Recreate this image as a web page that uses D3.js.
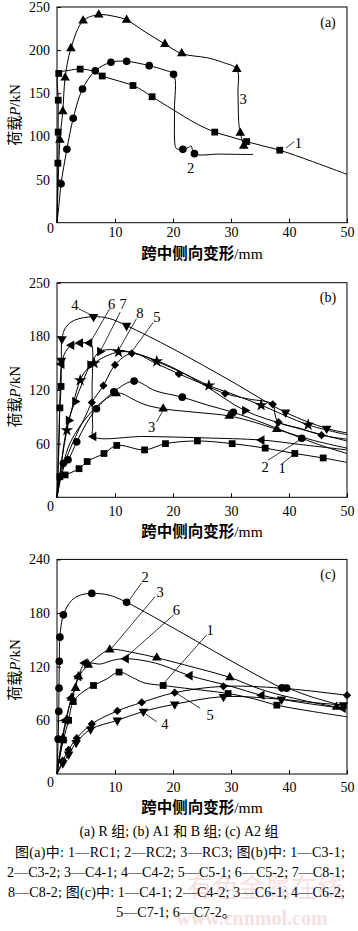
<!DOCTYPE html>
<html><head><meta charset="utf-8">
<script src="https://cdn.jsdelivr.net/npm/d3@7"></script>
<style>body{margin:0;background:#fff}svg{display:block}</style>
</head><body><svg id="chart" width="358" height="931"></svg>
<script>
// ---------- DATA ----------
const xTicks = [10, 20, 30, 40, 50];
const aYTicks = [50, 100, 150, 200, 250];
const aYTickLabels = ["50", "100", "150", "200", "250"];
const bYTicks = [60, 120, 180, 240];
const bYTickLabels = ["60", "120", "180", "250"];
const cYTicks = [60, 120, 180, 240];
const cYTickLabels = ["60", "120", "180", "240"];

// Panel (a) R group
const aRC1 = [[0,0],[0.15,69],[0.2,105],[0.22,142],[0.3,173],[2,176.5],[4.0,178],[6,176],[7.8,170],[10,165.5],[13.1,159],[14.8,153],[16.4,146],[20,131],[24,115],[27.2,105],[30,99.5],[32.7,94],[35.5,89],[38.4,84],[44,71],[50,56]];
const aRC1Marks = [[0.15,69],[0.2,105],[0.22,142],[0.3,173],[4.0,178],[7.8,170],[13.1,159],[16.4,146],[27.2,105],[32.7,94],[38.4,84]];
const aRC2 = [[0,0],[0.4,25],[0.7,45],[1.7,85],[2.8,121],[4.4,155],[6.6,176],[9.3,186],[12,187],[15.9,182],[18.5,177],[20.1,172],[20.25,130],[20.35,90],[20.6,86],[21.7,85],[22.6,87],[23.1,89],[23.7,80],[28,79.5],[33.8,79]];
const aRC2Marks = [[0.7,45],[1.7,85],[2.8,121],[4.4,155],[6.6,176],[9.3,186],[12,187],[15.9,182],[20.1,172],[21.7,85],[23.7,80]];
const aRC3 = [[0,0],[0.5,96],[1.0,129],[1.4,168],[2.4,202],[4.5,234],[7.2,241],[10,239],[12,235],[15,222],[18.6,207],[21.5,196],[26,191],[28.5,186],[31,178],[31.2,150],[31.35,115],[31.6,104],[32.2,89]];
const aRC3Marks = [[0.5,96],[1.0,129],[1.4,168],[2.4,202],[4.5,234],[7.2,241],[12,235],[18.6,207],[21.5,196],[31,178],[31.6,104],[32.2,89]];
const aLabels = [["1",41.6,92.4],["2",23.05,63.4],["3",32.1,143.3]];
const aLeaders = [[39.5,86.6,40.9,93.9]];

// Panel (b) A1 and B groups
const bC31 = [[0,0],[0.2,15],[0.5,23],[1.4,25],[3.8,32],[5.2,40],[8.1,49],[10.3,58],[15.1,53],[18.7,60],[24.2,63],[30.2,60],[35.9,55],[41,49],[45.9,44],[50,39]];
const bC31Marks = [[0.5,23],[1.4,25],[3.8,32],[5.2,40],[8.1,49],[10.3,58],[15.1,53],[18.7,60],[24.2,63],[30.2,60],[35.9,55],[41,49],[45.9,44]];
const bC32 = [[0,0],[0.5,25],[1.1,38],[1.9,42],[3.4,62],[5,82],[6.8,99],[9.8,118],[13.3,130],[17,119],[21.6,112],[26,103],[30.4,95],[36,82],[42.2,66],[46,57],[50,49]];
const bC32Marks = [[1.1,38],[1.9,42],[3.4,62],[6.8,99],[9.8,118],[13.3,130],[21.6,112],[30.4,95],[42.2,66]];
const bC41 = [[0,0],[0.5,20],[1.2,40],[2.2,60],[4,80],[6,96],[8,108],[10.2,116],[11.2,116],[13,110],[15,104],[18.3,99],[24,95],[29.7,91],[34,84],[37.9,76],[44,64],[50,55]];
const bC41Marks = [[10.2,116],[18.3,99],[29.7,91],[37.9,76]];
const bC42 = [[0,0],[0.3,50],[0.5,100],[0.7,124],[0.75,153],[0.85,177],[1.5,190],[3,198],[6.3,202],[9,200],[12,192],[20,166],[30,130],[39.4,95],[46.5,77],[50,72]];
const bC42Marks = [[0.75,153],[0.85,177],[6.3,202],[12,192],[39.4,95],[46.5,77]];
const bC42Squares = [[0.5,100],[0.7,124]];
const bC51 = [[0,0],[0.8,25],[2,50],[3.5,72],[5,92],[6.0,106],[8,125],[10,148],[12.9,161],[17,150],[21,138],[25,127],[29,116],[33,110],[37.2,104],[37.6,92],[38.2,84],[42,77],[45.6,69.5],[50,65]];
const bC51Marks = [[6.0,106],[8,125],[10,148],[12.9,161],[21,138],[29,116],[37.2,104],[38.2,84],[45.6,69.5]];
const bC52 = [[0,0],[0.3,60],[0.5,110],[0.8,149],[1.5,163],[2.5,170],[4,172.5],[5.6,172.5],[6.0,170],[6.05,120],[6.15,80],[6.3,68],[15,68],[25,66.5],[35.3,64],[42,59],[50,53]];
const bC52Marks = [[0.8,149],[2.5,170],[4,172.5],[5.6,172.5],[6.3,68],[35.3,64]];
const bC81 = [[0,0],[0.6,30],[1.2,60],[2.0,86],[3.1,107],[4.5,130],[5.7,148],[7.4,163],[10,165],[14,160],[19,148],[25,127],[32.4,97],[40,80],[50,63]];
const bC81Marks = [[2.0,86],[3.1,107],[5.7,148],[7.4,163],[32.4,97]];
const bC82 = [[0,0],[0.8,40],[1.7,75],[2.8,105],[4.0,131],[5,142],[6.4,150],[8.5,158],[10.6,162.5],[13,162],[17.2,152],[22,138],[26.2,125],[30,116],[35.2,103],[43.3,81],[50,70]];
const bC82Marks = [[1.7,75],[4.0,131],[6.4,150],[10.6,162.5],[17.2,152],[26.2,125],[35.2,103],[43.3,81]];
const bLabels = [["4",3.1,214.8],["6",9.4,216.5],["7",11.4,216.5],["8",14.3,205.7],["5",17.2,201.2],["3",16.3,78.8],["2",35.9,33.5],["1",38.8,32.4]];
const bLeaders = [[3.7,211,6.0,203.5],[9.1,211,6.0,176.3],[10.9,207.1,7.6,165],[13.7,199.8,10.6,164.4],[16.6,195.6,12.9,163],[17.2,84.4,18.3,97.4],[36.4,41.6,42.0,64.7],[38.9,38,41.0,49]];

// Panel (c) A2 group
const cC41 = [[0,0],[0.5,20],[1.1,38],[2.0,60],[2.8,81],[4.5,92],[6.3,99],[8.5,106],[10.7,114],[13,108],[15,102],[18.3,99],[22,96],[29.5,90],[34,84],[37.9,77],[44,70],[50,64]];
const cC41Marks = [[1.1,38],[2.0,60],[2.8,81],[6.3,99],[10.7,114],[18.3,99],[29.5,90],[37.9,77]];
const cC42 = [[0,0],[0.2,39],[0.3,70],[0.35,96],[0.4,126],[0.5,153],[1.1,178],[2.5,194],[4,200],[6.0,202],[9,200],[12,192],[38.8,96.5],[39.6,96],[44,86],[50,75]];
const cC42Marks = [[0.2,39],[0.3,70],[0.35,96],[0.4,126],[0.5,153],[1.1,178],[6.0,202],[12,192],[38.8,96.5],[39.6,96]];
const cC61 = [[0,0],[0.5,20],[1,40],[1.6,60],[2.5,85],[3.2,96],[3.7,109],[5.4,122],[7,131],[9.1,139],[13,136],[17.2,130],[22,122],[29.8,108],[35,95],[40,86],[48.2,75],[50,74]];
const cC61Marks = [[1,40],[1.6,60],[2.5,85],[3.2,96],[3.7,109],[5.4,122],[9.1,139],[17.2,130],[29.8,108],[48.2,75]];
const cC62 = [[0,0],[1,12],[2,22],[3.3,35],[5.8,50],[10.4,60],[14.9,70],[20.3,78],[28.7,86.5],[38.7,83.5],[44,80],[49.4,77],[50,76.5]];
const cC62Marks = [[1,12],[2,22],[3.3,35],[5.8,50],[10.4,60],[14.9,70],[20.3,78],[28.7,86.5],[38.7,83.5],[49.4,77]];
const cC71 = [[0,0],[1,15],[2,27],[3.4,40],[6,56],[10.4,70.5],[14.6,80],[20.3,91],[28.7,98],[38.7,96],[50,88]];
const cC71Marks = [[1,15],[2,27],[3.4,40],[6,56],[10.4,70.5],[14.6,80],[20.3,91],[28.7,98],[38.7,96],[50,88]];
const cC72 = [[0,0],[0.5,25],[1.5,60],[2.5,85],[3.7,109],[4.8,124],[6,124],[7.5,123],[9.5,127],[11.9,129],[17,124],[22.9,110],[30,98],[35.3,88],[42,80],[50,73]];
const cC72Marks = [[1.5,60],[2.5,85],[3.7,109],[4.8,124],[11.9,129],[22.9,110],[35.3,88],[49.3,73.5]];
const cLabels = [["2",15.2,220.7],["3",17.8,203.9],["6",20.6,183.4],["1",26.4,161.1],["5",26.4,66],["4",18.6,56]];
const cLeaders = [[14.6,214.0,12.3,192.8],[16.9,198.3,9.4,140.6],[20.1,177.9,12.0,131.2],[25.8,155.5,18.3,100.7],[24.7,73.5,20.6,90.3],[17.2,58.4,15.3,67]];

const captionLines = [
  "(a) R 组; (b) A1 和 B 组; (c) A2 组",
  "图(a)中: 1—RC1; 2—RC2; 3—RC3; 图(b)中: 1—C3-1;",
  "2—C3-2; 3—C4-1; 4—C4-2; 5—C5-1; 6—C5-2; 7—C8-1;",
  "8—C8-2; 图(c)中: 1—C4-1; 2—C4-2; 3—C6-1; 4—C6-2;",
  "5—C7-1; 6—C7-2。"
];

// ---------- DRAWING ----------
const FONT = "'Liberation Serif','Times New Roman','Noto Sans CJK SC',serif";
const CJK = "'Noto Sans CJK SC','Liberation Serif',serif";
const svg = d3.select("#chart");
const L = 57, R = 347;

function symPath(type) {
  const map = {
    square: [d3.symbolSquare, 46, 0],
    circle: [d3.symbolCircle, 46, 0],
    up: [d3.symbolTriangle, 40, 0],
    down: [d3.symbolTriangle, 40, 180],
    left: [d3.symbolTriangle, 40, -90],
    right: [d3.symbolTriangle, 40, 90],
    diamond: [d3.symbolSquare, 34, 45],
    star: [d3.symbolStar, 48, 0]
  };
  const m = map[type];
  return { d: d3.symbol(m[0], m[1])(), rot: m[2] };
}

const panels = [
  { top: 7, bottom: 222.7, yMax: 250, yTicks: aYTicks, yLabels: aYTickLabels, pad: 4.7, zeroY: 233.3, titleY: 258.5, yTitleY: 115, tag: "(a)",
    series: [[aRC1, aRC1Marks, "square"], [aRC2, aRC2Marks, "circle"], [aRC3, aRC3Marks, "up"]],
    extra: [], labels: aLabels, leaders: aLeaders },
  { top: 282.7, bottom: 497.3, yMax: 240, yTicks: bYTicks, yLabels: bYTickLabels, pad: 8.8, zeroY: 510.7, titleY: 537, yTitleY: 396.7, tag: "(b)",
    series: [[bC31, bC31Marks, "square"], [bC32, bC32Marks, "circle"], [bC41, bC41Marks, "up"], [bC42, bC42Marks, "down"],
             [bC51, bC51Marks, "diamond"], [bC52, bC52Marks, "left"], [bC81, bC81Marks, "right"], [bC82, bC82Marks, "star"]],
    extra: [[bC42Squares, "square"]], labels: bLabels, leaders: bLeaders },
  { top: 559.4, bottom: 774, yMax: 240, yTicks: cYTicks, yLabels: cYTickLabels, pad: 7.8, zeroY: 786.7, titleY: 813.3, yTitleY: 670, tag: "(c)",
    series: [[cC41, cC41Marks, "square"], [cC42, cC42Marks, "circle"], [cC61, cC61Marks, "up"], [cC62, cC62Marks, "down"],
             [cC71, cC71Marks, "diamond"], [cC72, cC72Marks, "left"]],
    extra: [], labels: cLabels, leaders: cLeaders }
];

// watermark (faint, behind the caption as in the source)
svg.append("text").attr("x", 265).attr("y", 897).attr("text-anchor", "middle")
  .attr("font-family", CJK).attr("font-size", 26).attr("fill", "#f6e1e1").text("有色金属在线");
svg.append("text").attr("x", 252).attr("y", 925).attr("text-anchor", "middle")
  .attr("font-family", FONT).attr("font-weight", "bold").attr("font-size", 20).attr("fill", "#f6e1e1").text("www.cnnmol.com");

panels.forEach(p => {
  const x = d3.scaleLinear().domain([0, 50]).range([L, R]);
  const y = d3.scaleLinear().domain([0, p.yMax]).range([p.bottom, p.top]);
  const g = svg.append("g");

  // axes
  const xa = g.append("g").attr("transform", `translate(0,${p.bottom})`)
    .call(d3.axisBottom(x).tickValues(xTicks).tickSizeInner(-4).tickSizeOuter(0).tickPadding(p.pad));
  const ya = g.append("g").attr("transform", `translate(${L},0)`)
    .call(d3.axisLeft(y).tickValues(p.yTicks).tickFormat((d, i) => p.yLabels[i]).tickSizeInner(-4).tickSizeOuter(0).tickPadding(7));
  [xa, ya].forEach(a => {
    a.select(".domain").remove();
    a.selectAll("line").attr("stroke", "#000");
    a.selectAll("text").attr("font-family", FONT).attr("font-size", 14).attr("fill", "#000");
  });
  g.append("rect").attr("x", L).attr("y", p.top).attr("width", R - L).attr("height", p.bottom - p.top)
    .attr("fill", "none").attr("stroke", "#000").attr("stroke-width", 1);
  g.append("text").attr("x", 50.5).attr("y", p.zeroY).attr("text-anchor", "middle")
    .attr("font-family", FONT).attr("font-size", 14).text("0");

  // titles
  const xt = g.append("text").attr("x", (L + R) / 2).attr("y", p.titleY).attr("text-anchor", "middle")
    .attr("font-size", 15.5);
  xt.append("tspan").attr("font-family", CJK).attr("font-weight", "bold").text("跨中侧向变形");
  xt.append("tspan").attr("font-family", FONT).text("/mm");
  const yt = g.append("text").attr("transform", `translate(19.5,${p.yTitleY}) rotate(-90)`).attr("text-anchor", "middle")
    .attr("font-size", 15);
  yt.append("tspan").attr("font-family", CJK).text("荷载");
  yt.append("tspan").attr("font-family", FONT).attr("font-style", "italic").text("P");
  yt.append("tspan").attr("font-family", FONT).text("/kN");
  g.append("text").attr("x", R - 19).attr("y", p.top + 19.5).attr("text-anchor", "middle")
    .attr("font-family", FONT).attr("font-size", 14).text(p.tag);

  // curves
  const line = d3.line().x(d => x(d[0])).y(d => y(d[1])).curve(d3.curveCatmullRom.alpha(0.5));
  p.series.forEach(s => {
    g.append("path").attr("d", line(s[0])).attr("fill", "none").attr("stroke", "#000").attr("stroke-width", 1);
  });
  const drawMarks = (pts, type) => {
    const sp = symPath(type);
    g.selectAll(null).data(pts).enter().append("path").attr("d", sp.d)
      .attr("transform", d => `translate(${x(d[0])},${y(d[1])}) rotate(${sp.rot})`).attr("fill", "#000");
  };
  p.series.forEach(s => drawMarks(s[1], s[2]));
  p.extra.forEach(e => drawMarks(e[0], e[1]));

  // leaders and curve numbers
  p.leaders.forEach(l => {
    g.append("line").attr("x1", x(l[0])).attr("y1", y(l[1])).attr("x2", x(l[2])).attr("y2", y(l[3]))
      .attr("stroke", "#000").attr("stroke-width", 0.8);
  });
  p.labels.forEach(lb => {
    g.append("text").attr("x", x(lb[1])).attr("y", y(lb[2])).attr("dy", "0.35em").attr("text-anchor", "middle")
      .attr("font-family", FONT).attr("font-size", 14.5).text(lb[0]);
  });
});

// caption
const capPos = [[179, 835.5, null, null], [15, 856.5, 330, "start"], [7, 876.5, 338, "start"], [8, 897, 337, "start"], [176, 916.5, null, null]];
captionLines.forEach((t, i) => {
  const c = capPos[i];
  const el = svg.append("text").attr("x", c[0]).attr("y", c[1])
    .attr("font-family", FONT).attr("font-size", 14).attr("fill", "#000")
    .attr("text-anchor", c[3] ? "start" : "middle").text(t);
  if (c[2]) el.attr("textLength", c[2]).attr("lengthAdjust", "spacing");
});
</script></body></html>
